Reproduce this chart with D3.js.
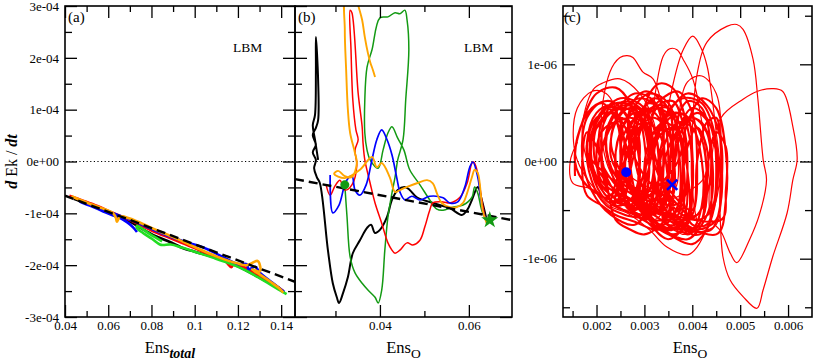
<!DOCTYPE html>
<html lang="en">
<head>
  <meta charset="UTF-8">
  <title>dEk/dt vs enstrophy</title>
  <script src="https://d3js.org/d3.v7.min.js"></script>
  <style>
    body { margin: 0; background: #fff; }
    svg text { font-family: "Liberation Serif", "DejaVu Serif", serif; fill: #000; }
    .tick line { stroke: #000; stroke-width: 1.3px; }
    .tick text { font-size: 13px; }
  </style>
</head>
<body>
<svg id="chart" width="814" height="361"></svg>
<script>
const serif = '"Liberation Serif", "DejaVu Serif", serif';

// ---- axis ticks / labels ----
const yTicksAB = [-3, -2, -1, 0, 1, 2, 3];            // in units of 1e-4
const yLabelsAB = ["-3e-04", "-2e-04", "-1e-04", "0e+00", "1e-04", "2e-04", "3e-04"];
const yMinorAB = [-2.5, -1.5, -0.5, 0.5, 1.5, 2.5];
const xTicksA = [0.04, 0.06, 0.08, 0.1, 0.12, 0.14];
const xLabelsA = ["0.04", "0.06", "0.08", "0.1", "0.12", "0.14"];
const xMinorA = [0.05, 0.07, 0.09, 0.11, 0.13];
const xTicksB = [0.04, 0.06];
const xLabelsB = ["0.04", "0.06"];
const xMinorB = [0.03, 0.05];
const yTicksC = [-1, 0, 1];                           // in units of 1e-6
const yLabelsC = ["-1e-06", "0e+00", "1e-06"];
const yMinorC = [-1.5, -0.5, 0.5, 1.5];
const xTicksC = [0.002, 0.003, 0.004, 0.005, 0.006];
const xLabelsC = ["0.002", "0.003", "0.004", "0.005", "0.006"];
const xMinorC = [0.0015, 0.0025, 0.0035, 0.0045, 0.0055];

// ---- panel (a): Ens_total vs dEk/dt (1e-4) ----
const aBlack = [[0.044,-0.72],[0.05,-0.81],[0.06,-0.98],[0.07,-1.16],[0.08,-1.40],[0.09,-1.58],[0.095,-1.68],[0.1,-1.74],[0.11,-1.86],[0.12,-2.02],[0.13,-2.24],[0.139,-2.44]];
const aRed = [[0.042,-0.66],[0.048,-0.75],[0.055,-0.86],[0.062,-0.99],[0.07,-1.13],[0.08,-1.33],[0.09,-1.50],[0.1,-1.67],[0.108,-1.82],[0.114,-1.92],[0.117,-2.04],[0.118,-1.98],[0.122,-2.02],[0.13,-2.20],[0.137,-2.38],[0.141,-2.50]];
const aBlue = [[0.0733,-1.36],[0.0715,-1.27],[0.069,-1.18],[0.066,-1.10],[0.062,-1.04],[0.057,-0.95],[0.052,-0.86],[0.047,-0.78],[0.054,-0.88],[0.062,-1.0],[0.07,-1.12],[0.08,-1.30],[0.09,-1.47],[0.098,-1.58],[0.104,-1.66],[0.112,-1.82],[0.12,-1.98],[0.124,-1.98],[0.125,-2.08],[0.128,-2.03],[0.13,-2.14],[0.136,-2.34],[0.1415,-2.52]];
const aGreen = [[0.1425,-2.56],[0.136,-2.40],[0.13,-2.25],[0.122,-2.07],[0.115,-1.95],[0.108,-1.85],[0.1,-1.74],[0.094,-1.66],[0.089,-1.60],[0.0853,-1.61],[0.0839,-1.60],[0.0802,-1.49],[0.0761,-1.38],[0.0733,-1.28],[0.0733,-1.24],[0.0793,-1.40],[0.0849,-1.54]];
const aOrange = [[0.043,-0.67],[0.05,-0.79],[0.057,-0.90],[0.062,-0.99],[0.0635,-1.08],[0.064,-1.16],[0.0655,-1.06],[0.07,-1.10],[0.08,-1.28],[0.09,-1.46],[0.1,-1.65],[0.11,-1.83],[0.12,-1.97],[0.1242,-2.0],[0.1292,-1.92],[0.1302,-2.12],[0.1265,-2.08],[0.129,-2.15],[0.135,-2.32],[0.1395,-2.46],[0.141,-2.53]];
const aFit = [[0.04,-0.66],[0.1464,-2.32]];

// ---- panel (b): Ens_O vs dEk/dt (1e-4) ----
const bBlack = [[0.0261,0.03],[0.0254,0.42],[0.0249,0.70],[0.0254,0.90],[0.0256,1.77],[0.0256,2.40],[0.0261,1.57],[0.0261,0.80],[0.0256,0.65],[0.0249,0.51],[0.0256,0.32],[0.0249,0.18],[0.0256,0.03],[0.0252,-0.13],[0.0258,-0.30],[0.0265,-0.42],[0.0283,-1.71],[0.0294,-2.35],[0.0303,-2.62],[0.0308,-2.73],[0.0317,-2.54],[0.0328,-2.23],[0.0339,-1.77],[0.0355,-1.52],[0.0371,-1.28],[0.038,-1.22],[0.0389,-1.38],[0.04,-1.32],[0.0416,-1.07],[0.0427,-0.74],[0.044,-0.55],[0.0456,-0.49],[0.0467,-0.55],[0.0483,-0.69],[0.0519,-0.80],[0.0557,-0.90],[0.0584,-1.03],[0.0596,-0.94],[0.0607,-0.74],[0.062,-0.49],[0.0629,-0.74],[0.064,-1.13]];
const bRed = [[0.0636,-1.07],[0.0629,-0.74],[0.0618,-0.16],[0.0611,-0.01],[0.0607,-0.03],[0.0596,-0.42],[0.058,-0.69],[0.0557,-0.80],[0.0542,-0.78],[0.0519,-0.80],[0.0512,-0.94],[0.0501,-1.26],[0.049,-1.52],[0.0474,-1.61],[0.0461,-1.57],[0.0445,-1.71],[0.0434,-1.77],[0.0427,-1.71],[0.0418,-1.57],[0.0404,-1.19],[0.0389,-0.80],[0.0378,-0.42],[0.0366,0.03],[0.0362,0.36],[0.036,0.67],[0.0351,1.32],[0.0337,2.87],[0.0333,2.92],[0.0335,2.15],[0.0339,1.19],[0.0346,0.61],[0.0351,0.42],[0.0344,0.22],[0.0348,-0.07],[0.0337,-0.45],[0.0321,-0.55],[0.031,-0.36],[0.0299,-0.47],[0.0288,-0.65],[0.0279,-0.45]];
const bBlue = [[0.0288,-0.26],[0.0294,-0.99],[0.0308,-0.84],[0.0324,-0.38],[0.0337,-0.28],[0.0344,-0.55],[0.0355,-0.65],[0.0369,-0.45],[0.0382,0.03],[0.0393,0.42],[0.0404,0.61],[0.0416,0.42],[0.0427,0.13],[0.0438,-0.32],[0.0445,-0.59],[0.0456,-0.74],[0.0472,-0.67],[0.049,-0.74],[0.0512,-0.67],[0.0542,-0.70],[0.0557,-0.80],[0.0575,-0.78],[0.0591,-0.49],[0.0602,-0.11],[0.0609,-0.01],[0.062,-0.30],[0.0631,-0.94],[0.064,-1.17]];
const bGreen = [[0.0321,-0.45],[0.0326,-1.07],[0.0333,-1.84],[0.0344,-2.15],[0.036,-2.35],[0.0373,-2.48],[0.0389,-2.62],[0.0396,-2.73],[0.0404,-2.48],[0.0411,-1.71],[0.0418,-1.07],[0.0427,-0.61],[0.0434,-0.30],[0.044,0.03],[0.0452,0.42],[0.0458,1.19],[0.0465,2.15],[0.0461,2.73],[0.0456,2.92],[0.0445,2.85],[0.0434,2.87],[0.0418,2.79],[0.04,2.77],[0.0382,2.15],[0.0371,1.82],[0.0366,1.19],[0.0366,0.55],[0.0371,0.22],[0.0378,0.03],[0.0396,-0.13],[0.0407,0.22],[0.0418,0.55],[0.0427,0.67],[0.044,0.45],[0.0454,0.22],[0.0467,-0.16],[0.049,-0.45],[0.0512,-0.74],[0.0528,-0.92],[0.0542,-0.94],[0.0564,-0.88],[0.0587,-0.84],[0.0607,-0.69],[0.0613,-0.49],[0.062,-0.61],[0.0631,-0.99],[0.0643,-1.13]];
const bOrange = [[0.0389,1.63],[0.0384,1.77],[0.0378,1.92],[0.0373,2.09],[0.0366,2.40],[0.036,2.73],[0.0351,3.02],[0.0346,3.21],[0.0324,3.21],[0.0321,2.54],[0.0324,1.77],[0.0328,0.99],[0.0333,0.55],[0.0344,0.16],[0.0348,-0.03],[0.0337,-0.30],[0.0321,-0.28],[0.0306,-0.18],[0.0297,-0.24],[0.0321,-0.32],[0.0355,-0.16],[0.0382,0.09],[0.0393,-0.11],[0.0404,-0.03],[0.0422,-0.30],[0.0434,-0.59],[0.0445,-0.55],[0.0461,-0.49],[0.0483,-0.42],[0.0506,-0.36],[0.0519,-0.42],[0.0528,-0.61],[0.0539,-0.80],[0.0557,-0.88],[0.0573,-0.88],[0.0587,-0.80],[0.0596,-0.61],[0.0607,-0.30],[0.0613,-0.16],[0.062,-0.22],[0.0631,-0.94],[0.064,-1.19]];
const bFit = [[0.0209,-0.34],[0.0697,-1.13]];
const bStart = [0.0321, -0.45];
const bEnd = [0.0647, -1.13];

// ---- panel (c): Ens_O vs dEk/dt (1e-6) ----
// large excursions
const cOuter = [
  [0.003,-0.4],[0.0024,-0.2],[0.0021,0.3],[0.00228,0.92],[0.00249,1.07],[0.00264,1.09],[0.00276,1.07],[0.00297,0.92],[0.00318,0.85],[0.0034,0.5],[0.0035,0.0],[0.0034,-0.5],
  [0.0032,-0.6],[0.0026,-0.45],[0.002,-0.2],[0.0017,0.3],[0.00193,0.74],[0.00214,0.81],[0.00249,0.85],[0.0029,0.7],[0.0032,0.4],[0.0033,-0.1],[0.0032,-0.45],
  [0.003,-0.5],[0.0031,0.2],[0.00339,1.08],[0.00353,1.16],[0.00368,1.15],[0.00381,1.05],[0.00401,0.85],[0.0042,0.4],[0.0043,-0.1],[0.0042,-0.6],
  [0.0038,-0.75],[0.0035,-0.5],[0.0034,0.2],[0.0036,0.8],[0.00381,1.15],[0.00401,1.29],[0.0042,1.15],[0.00431,0.98],[0.00437,0.81],[0.0045,0.3],[0.0046,-0.2],[0.0045,-0.65],
  [0.0042,-0.7],[0.004,-0.3],[0.004,0.3],[0.0041,0.9],[0.00431,1.23],[0.00472,1.39],[0.00493,1.41],[0.00506,1.36],[0.00527,1.05],[0.00537,0.64],[0.00548,0.02],[0.00555,-0.19],[0.0054,-0.55],[0.0052,-0.8],[0.00493,-1.04],[0.0048,-0.95],[0.0046,-0.72],
  [0.0044,-0.6],[0.0044,0.0],[0.0046,0.45],[0.00506,0.64],[0.00535,0.72],[0.00568,0.75],[0.00589,0.72],[0.0061,0.36],[0.00619,0.02],[0.0061,-0.19],[0.00598,-0.53],[0.00568,-0.98],[0.00548,-1.32],[0.00535,-1.51],[0.00506,-1.39],[0.00479,-1.22],[0.00464,-0.98],[0.00458,-0.53],[0.00455,0.0],
  [0.0044,0.2],[0.0042,-0.2],
  [0.0026,-0.5],[0.0021,-0.35],[0.00165,-0.05],[0.00152,0.2],[0.0016,0.55],[0.0019,0.72],[0.0022,0.7],[0.0025,0.4],[0.0026,-0.1],
  [0.0036,-0.3],[0.0037,0.4],[0.0039,0.82],[0.0042,0.88],[0.0045,0.7],[0.0046,0.2],[0.0045,-0.4],
  [0.0041,-0.88],[0.0039,-0.96],[0.00347,-0.88],[0.0031,-0.7],[0.00264,-0.53],[0.00228,-0.46],[0.00193,-0.29],[0.0015,-0.22],[0.00145,0.0],[0.0016,0.2]
];
// dense core of small loops
const cCore = [
  [0.00155,-0.15],[0.0016,0.25],[0.0019,0.55],[0.0023,0.62],[0.0027,0.4],[0.0029,-0.2],
  [0.0027,-0.45],[0.0022,-0.3],[0.0019,0.0],[0.002,0.4],[0.0025,0.65],[0.003,0.55],[0.0033,0.1],[0.0033,-0.4],
  [0.003,-0.6],[0.0026,-0.4],[0.0024,0.1],[0.0027,0.5],[0.0031,0.7],[0.0035,0.6],[0.0037,0.2],[0.0037,-0.45],
  [0.0034,-0.65],[0.0029,-0.5],[0.0027,-0.1],[0.0029,0.35],[0.0033,0.62],[0.0037,0.72],[0.004,0.5],[0.0041,0.0],[0.004,-0.55],
  [0.0036,-0.75],[0.0031,-0.55],[0.0025,-0.3],[0.0021,0.0],[0.0021,0.4],[0.0024,0.6],[0.0028,0.55],[0.003,0.2],[0.003,-0.2],
  [0.0028,-0.45],[0.0023,-0.4],[0.0018,-0.25],[0.00155,0.0],[0.0017,0.4],[0.002,0.7],[0.0024,0.76],[0.0027,0.6],[0.0029,0.2],[0.0029,-0.35],
  [0.0032,-0.55],[0.0035,-0.2],[0.0036,0.3],[0.0039,0.62],[0.0042,0.55],[0.0044,0.1],[0.0044,-0.4],[0.0042,-0.65],
  [0.0039,-0.8],[0.0034,-0.7],[0.003,-0.5],[0.0026,-0.2],[0.0023,0.2],[0.0025,0.5],[0.0029,0.65],[0.0033,0.55],[0.0035,0.1],[0.0034,-0.3],
  [0.0031,-0.5],[0.0027,-0.25],[0.0025,0.15],[0.0028,0.45],[0.0032,0.55],[0.0036,0.45],[0.0038,0.05],[0.0038,-0.5],
  [0.0036,-0.7],[0.0032,-0.65],[0.0029,-0.4],[0.0031,0.05],[0.0034,0.45],[0.0038,0.65],[0.0042,0.6],[0.0045,0.2],[0.0045,-0.35],[0.0043,-0.7],
  [0.004,-0.85],[0.0035,-0.75],[0.0028,-0.55],[0.0022,-0.4],[0.0019,-0.1],[0.0019,0.3],[0.0022,0.55],[0.0026,0.5],[0.0027,0.1],[0.0026,-0.3],
  [0.0023,-0.35],[0.0021,0.05],[0.0023,0.35],[0.0027,0.45],[0.0031,0.35],[0.0032,-0.05],[0.0031,-0.5],
  [0.0028,-0.55],[0.003,-0.1],[0.0033,0.3],[0.0037,0.5],[0.0041,0.35],[0.0043,-0.1],[0.0042,-0.6],
  [0.0039,-0.75],[0.0036,-0.6],[0.0033,-0.35],[0.0032,0.1],[0.0035,0.5],[0.0039,0.7],[0.0043,0.58],[0.0046,0.2],[0.0046,-0.3],[0.0045,-0.6],
  [0.0041,-0.7],[0.0036,-0.55],[0.0029,-0.35],[0.0024,-0.15],[0.0022,0.2],[0.0024,0.5],[0.0028,0.7],[0.0032,0.62],[0.0034,0.25],[0.0033,-0.2],
  [0.0025,-0.4],[0.0027,0.2],[0.003,0.5],[0.0034,0.58],[0.0037,0.35],[0.0039,-0.1],[0.0039,-0.6],
  [0.0035,-0.8],[0.003,-0.6],[0.0024,-0.45],[0.002,-0.2],[0.0018,0.15],[0.002,0.45],[0.0023,0.5],[0.0025,0.25],[0.0025,-0.2],
  [0.0027,-0.5],[0.0032,-0.3],[0.0037,0.0],[0.0039,0.4],[0.0042,0.65],[0.0045,0.55],[0.0047,0.1],[0.0047,-0.4],[0.0045,-0.75],
  [0.0018,0.1],[0.0021,0.4],[0.0026,0.58],[0.0031,0.45],[0.0033,0.0],[0.0032,-0.45],
  [0.003,-0.6],[0.0033,-0.2],[0.0036,0.25],[0.004,0.45],[0.0043,0.3],[0.0044,-0.2],[0.0043,-0.7],
  [0.004,-0.75],[0.0035,-0.4],[0.0032,0.1],[0.003,0.55],[0.0033,0.8],[0.0036,0.75],[0.0039,0.35],[0.004,-0.1],[0.0039,-0.55],
  [0.0037,-0.65],[0.0031,-0.45],[0.0026,-0.35],[0.0023,-0.1],[0.0022,0.3],[0.0025,0.55],[0.0029,0.45],[0.0031,0.0],[0.003,-0.4],
  [0.0028,-0.5],[0.0025,-0.1],[0.0027,0.3],[0.003,0.4],[0.0033,0.3],[0.0035,-0.2],[0.0036,-0.6],[0.004,-0.7],
  [0.0042,-0.6],[0.0043,-0.1],[0.0045,0.3],[0.0047,0.15],[0.0047,-0.3],[0.0046,-0.6],
  [0.0021,-0.2],[0.0022,0.25],[0.0025,0.45],[0.0028,0.3],[0.0029,-0.1],[0.0027,-0.4],
  [0.0024,-0.45],[0.0026,0.0],[0.0029,0.35],[0.0032,0.45],[0.0035,0.3],[0.0036,-0.15],[0.0035,-0.55],
  [0.0032,-0.6],[0.003,-0.2],[0.0031,0.2],[0.0034,0.4],[0.0037,0.3],[0.0038,-0.1],[0.0037,-0.5],
  [0.0034,-0.55],[0.0029,-0.45],[0.0024,-0.3],[0.002,-0.05],[0.002,0.35],[0.0023,0.5],[0.0026,0.35],[0.0027,-0.05],
  [0.0026,-0.35],[0.0028,0.1],[0.0031,0.5],[0.0035,0.55],[0.0038,0.3],[0.0039,-0.15],[0.0038,-0.6],
  [0.0035,-0.65],[0.0033,-0.3],[0.0034,0.15],[0.0037,0.4],[0.004,0.35],[0.0042,0.0],[0.0042,-0.45],[0.004,-0.7],
  [0.0037,-0.72],[0.0032,-0.55],[0.0027,-0.45],[0.0023,-0.25],[0.0021,0.1],[0.0022,0.45],[0.0026,0.62],[0.003,0.5],[0.0032,0.1],[0.0031,-0.3],
  [0.0029,-0.4],[0.0027,0.0],[0.0028,0.4],[0.0031,0.6],[0.0034,0.5],[0.0036,0.1],[0.0036,-0.35],
  [0.0034,-0.5],[0.0036,-0.1],[0.0038,0.35],[0.0041,0.5],[0.0044,0.35],[0.0045,-0.05],[0.0044,-0.5],
  [0.0041,-0.6],[0.0037,-0.45],[0.0033,-0.15],[0.0031,0.3],[0.0033,0.58],[0.0036,0.62],[0.0038,0.4],[0.0039,0.0],[0.0038,-0.4],
  [0.0035,-0.45],[0.0031,-0.35],[0.0026,-0.2],[0.0023,0.05],[0.0024,0.4],[0.0027,0.55],[0.003,0.4],[0.0031,0.0],[0.003,-0.35],
  [0.0027,-0.4],[0.0024,-0.1],[0.0025,0.3],[0.0028,0.5],[0.0031,0.3],[0.0032,-0.1],[0.0031,-0.45],
  [0.0028,-0.65],[0.0023,-0.55],[0.0019,-0.3],[0.0017,0.05],[0.0018,0.45],[0.0021,0.6],[0.0024,0.45],[0.0025,0.1],[0.0024,-0.3],
  [0.0022,-0.35],[0.002,0.0],[0.0021,0.3],[0.0024,0.4],[0.0026,0.2],[0.0027,-0.15],[0.0026,-0.45],
  [0.003,-0.55],[0.0034,-0.45],[0.0036,-0.1],[0.0037,0.3],[0.004,0.55],[0.0043,0.45],[0.0045,0.1],[0.0045,-0.3],[0.0043,-0.65],
  [0.004,-0.65],[0.0038,-0.3],[0.0039,0.15],[0.0041,0.35],[0.0043,0.15],[0.0043,-0.25],[0.0041,-0.55],
  [0.0037,-0.6],[0.0033,-0.5],[0.003,-0.3],[0.0028,0.05],[0.0029,0.45],[0.0032,0.65],[0.0035,0.55],[0.0036,0.15],[0.0035,-0.3],
  [0.0033,-0.4],[0.0032,0.0],[0.0033,0.35],[0.0036,0.5],[0.0039,0.45],[0.004,0.1],[0.004,-0.35],[0.0039,-0.65],
  [0.0036,-0.7],[0.0031,-0.6],[0.0026,-0.55],[0.0022,-0.45],[0.0019,-0.2],[0.0018,0.2],[0.002,0.5],[0.0023,0.58],[0.0025,0.4],[0.0026,0.0],[0.0025,-0.35],
  [0.0023,-0.45],[0.0025,-0.05],[0.0027,0.35],[0.003,0.55],[0.0033,0.45],[0.0034,0.05],[0.0033,-0.35],
  [0.003,-0.45],[0.0031,-0.05],[0.0033,0.25],[0.0036,0.35],[0.0038,0.2],[0.0038,-0.2],[0.0037,-0.55],
  [0.0034,-0.6],[0.0035,-0.2],[0.0036,0.2],[0.0039,0.45],[0.0042,0.4],[0.0044,0.05],[0.0043,-0.35],[0.0041,-0.55],
  [0.0038,-0.55],[0.0034,-0.35],[0.003,-0.15],[0.0027,0.2],[0.0027,0.55],[0.003,0.72],[0.0033,0.65],[0.0034,0.3],[0.0033,-0.1],
  [0.004,-0.5],[0.0041,0.0],[0.0043,0.4],[0.0045,0.45],[0.0046,0.1],[0.0046,-0.4],[0.0044,-0.7],
  [0.004,-0.72],[0.0036,-0.68],[0.0032,-0.7],[0.0028,-0.62],[0.0024,-0.55],[0.0021,-0.45],[0.0018,-0.35],[0.0017,-0.1],
  [0.0018,0.3],[0.002,0.15],[0.0022,-0.2],[0.0024,-0.6],[0.0027,-0.7],[0.003,-0.75],[0.0034,-0.62],[0.0036,-0.4],
  [0.0031,-0.3],[0.0028,-0.3],[0.0025,-0.1]
];
const cStart = [0.00262, -0.11];
const cEnd = [0.00358, -0.24];

// ---- layout ----
const plotTop = 6, plotBottom = 317;
const svg = d3.select("#chart");

const xA = d3.scaleLinear().domain([0.04, 0.1464]).range([65, 295]);
const xB = d3.scaleLinear().domain([0.0209, 0.0697]).range([295, 512]);
const xC = d3.scaleLinear().domain([0.0013, 0.0065]).range([563, 812]);
const yAB = d3.scaleLinear().domain([-3, 3]).range([plotBottom, plotTop]);
const yC = d3.scaleLinear().domain([-1.6, 1.6]).range([plotBottom, plotTop]);

function panel(id, x, y) {
  const [x0, x1] = x.range();
  svg.append("clipPath").attr("id", id)
    .append("rect").attr("x", x0).attr("y", plotTop).attr("width", x1 - x0).attr("height", plotBottom - plotTop);
  const g = svg.append("g").attr("clip-path", `url(#${id})`);
  // zero line
  g.append("line")
    .attr("x1", x0).attr("x2", x1).attr("y1", y(0)).attr("y2", y(0))
    .attr("stroke", "#000").attr("stroke-width", 1).attr("stroke-dasharray", "1.2,2.4");
  return g;
}

function lineOf(x, y, curve) {
  return d3.line().x(d => x(d[0])).y(d => y(d[1])).curve(curve || d3.curveLinear);
}

function axes(x, y, o) {
  const [x0, x1] = x.range();
  const g = svg.append("g");
  const add = (axis, tr) => {
    const a = g.append("g").attr("transform", tr).call(axis)
      .attr("font-family", serif).attr("font-size", 13);
    a.select(".domain").remove();
    return a;
  };
  // bottom
  add(d3.axisBottom(x).tickValues(o.xt).tickSize(-12).tickPadding(4)
    .tickFormat((d, i) => o.xl[i]), `translate(0,${plotBottom})`);
  add(d3.axisBottom(x).tickValues(o.xm).tickSize(-6).tickFormat(""), `translate(0,${plotBottom})`);
  // top
  add(d3.axisTop(x).tickValues(o.xt).tickSize(-12).tickFormat(""), `translate(0,${plotTop})`);
  add(d3.axisTop(x).tickValues(o.xm).tickSize(-6).tickFormat(""), `translate(0,${plotTop})`);
  // left
  add(d3.axisLeft(y).tickValues(o.yt).tickSize(-12).tickPadding(6)
    .tickFormat(o.yl ? (d, i) => o.yl[i] : ""), `translate(${x0},0)`);
  add(d3.axisLeft(y).tickValues(o.ym).tickSize(-7).tickFormat(""), `translate(${x0},0)`);
  // right
  add(d3.axisRight(y).tickValues(o.yt).tickSize(-12).tickFormat(""), `translate(${x1},0)`);
  add(d3.axisRight(y).tickValues(o.ym).tickSize(-7).tickFormat(""), `translate(${x1},0)`);
  // frame
  g.append("rect").attr("x", x0).attr("y", plotTop).attr("width", x1 - x0).attr("height", plotBottom - plotTop)
    .attr("fill", "none").attr("stroke", "#000").attr("stroke-width", 1.6);
}

// ---- panel (a) ----
const gA = panel("clipA", xA, yAB);
const lA = lineOf(xA, yAB, d3.curveCatmullRom);
[[aBlack, "#000"], [aRed, "#ff0000"], [aBlue, "#0000ff"], [aGreen, "#22dd22"], [aOrange, "#ffa500"]]
  .forEach(([d, c]) => gA.append("path").datum(d).attr("d", lA)
    .attr("fill", "none").attr("stroke", c).attr("stroke-width", 2.6).attr("stroke-linejoin", "round"));
gA.append("path").datum(aFit).attr("d", lineOf(xA, yAB))
  .attr("fill", "none").attr("stroke", "#000").attr("stroke-width", 2.4).attr("stroke-dasharray", "9,5");

// ---- panel (b) ----
const gB = panel("clipB", xB, yAB);
const lB = lineOf(xB, yAB, d3.curveCatmullRom);
[[bBlack, "#000", 2], [bGreen, "#139a13", 1.5], [bRed, "#ff0000", 1.5], [bBlue, "#0000ff", 1.7], [bOrange, "#ffa500", 1.9]]
  .forEach(([d, c, w]) => gB.append("path").datum(d).attr("d", lB)
    .attr("fill", "none").attr("stroke", c).attr("stroke-width", w).attr("stroke-linejoin", "round"));
gB.append("path").datum(bFit).attr("d", lineOf(xB, yAB))
  .attr("fill", "none").attr("stroke", "#000").attr("stroke-width", 2.4).attr("stroke-dasharray", "9,5");
gB.append("circle").attr("cx", xB(bStart[0])).attr("cy", yAB(bStart[1])).attr("r", 4.5).attr("fill", "#139a13");
svg.append("path").attr("d", d3.symbol(d3.symbolStar, 90)())
  .attr("transform", `translate(${xB(bEnd[0])},${yAB(bEnd[1])})`).attr("fill", "#139a13");

// ---- panel (c) ----
const gC = panel("clipC", xC, yC);
const lC = lineOf(xC, yC, d3.curveCatmullRom);
gC.append("path").datum(cCore).attr("d", lC)
  .attr("fill", "none").attr("stroke", "#ff0000").attr("stroke-width", 2.1);
gC.append("path").datum(cOuter).attr("d", lC)
  .attr("fill", "none").attr("stroke", "#ff0000").attr("stroke-width", 1.2);
gC.append("circle").attr("cx", xC(cStart[0])).attr("cy", yC(cStart[1])).attr("r", 5).attr("fill", "#0000ff");
gC.append("path").attr("d", d3.symbol(d3.symbolTimes, 70)())
  .attr("transform", `translate(${xC(cEnd[0])},${yC(cEnd[1])})`)
  .attr("fill", "none").attr("stroke", "#0000ff").attr("stroke-width", 2.5);

// ---- axes ----
axes(xA, yAB, { xt: xTicksA, xl: xLabelsA, xm: xMinorA, yt: yTicksAB, yl: yLabelsAB, ym: yMinorAB });
axes(xB, yAB, { xt: xTicksB, xl: xLabelsB, xm: xMinorB, yt: yTicksAB, yl: null, ym: yMinorAB });
axes(xC, yC, { xt: xTicksC, xl: xLabelsC, xm: xMinorC, yt: yTicksC, yl: yLabelsC, ym: yMinorC });

// ---- labels ----
const txt = (x, y, s, size) => svg.append("text").attr("x", x).attr("y", y)
  .attr("font-family", serif).attr("font-size", size).text(s);
txt(68, 22, "(a)", 15);
txt(298, 22, "(b)", 15);
txt(564, 22, "(c)", 15);
txt(233, 52, "LBM", 13.5);
txt(464, 52, "LBM", 13.5);

function ensLabel(cx, sub, bold) {
  const t = svg.append("text").attr("x", cx).attr("y", 353).attr("text-anchor", "middle")
    .attr("font-family", serif).attr("font-size", 16.5);
  t.append("tspan").text("Ens");
  t.append("tspan").attr("dy", 5).attr("font-size", bold ? 14 : 13.5)
    .attr("font-weight", bold ? "bold" : "normal").attr("font-style", bold ? "italic" : "normal").text(sub);
}
ensLabel(xA(0.0885), "total", true);
ensLabel(xB(0.0453), "O", false);
ensLabel(xC(0.00395), "O", false);

const yl = svg.append("text").attr("transform", `translate(17,${yAB(0)}) rotate(-90)`)
  .attr("text-anchor", "middle").attr("font-family", serif).attr("font-size", 16);
yl.append("tspan").attr("font-weight", "bold").attr("font-style", "italic").text("d");
yl.append("tspan").text(" Ek / ");
yl.append("tspan").attr("font-weight", "bold").attr("font-style", "italic").text("dt");
</script>
</body>
</html>
